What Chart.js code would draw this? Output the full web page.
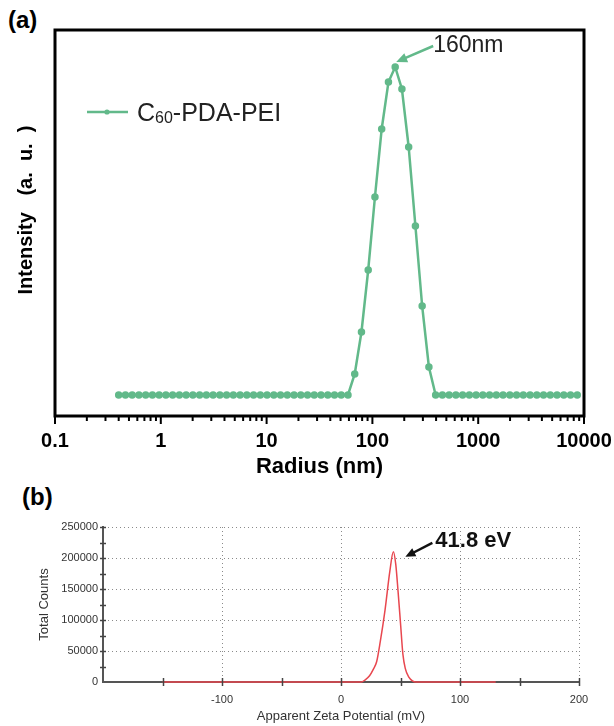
<!DOCTYPE html>
<html>
<head>
<meta charset="utf-8">
<script src="https://cdn.jsdelivr.net/npm/chart.js@4.4.0/dist/chart.umd.min.js"></script>
<style>
  body { margin: 0; background: #fff; }
  #wrap { position: relative; width: 614px; height: 726px; }
  canvas { position: absolute; left: 0; }
  .tag { position: absolute; font: bold 24px "Liberation Sans", Arial, sans-serif; color: #000; line-height: 28px; }
</style>
</head>
<body>
<div id="wrap">
  <div class="tag" style="left:8px;top:6px">(a)</div>
  <canvas id="sizeChart" width="614" height="480" style="top:0"></canvas>
  <div class="tag" style="left:22px;top:483px">(b)</div>
  <canvas id="zetaChart" width="614" height="246" style="top:480px"></canvas>
</div>
<script>
// (a) size distribution, radius bins in nm
var radiusNm = [0.4, 0.4632, 0.5365, 0.6213, 0.7195, 0.8332, 0.9649, 1.117, 1.294, 1.499,
  1.736, 2.01, 2.328, 2.696, 3.122, 3.615, 4.187, 4.849, 5.615, 6.503,
  7.531, 8.721, 10.1, 11.7, 13.54, 15.69, 18.17, 21.04, 24.36, 28.21,
  32.67, 37.84, 43.82, 50.75, 58.77, 68.06, 78.82, 91.28, 105.7, 122.4,
  141.8, 164.2, 190.1, 220.2, 255, 295.3, 342, 396.1, 458.7, 531.2,
  615.1, 712.4, 825, 955.4, 1106, 1281, 1484, 1718, 1990, 2305,
  2669, 3091, 3580, 4145, 4801, 5560, 6439, 7456, 8635];
var intensity = [0, 0, 0, 0, 0, 0, 0, 0, 0, 0,
  0, 0, 0, 0, 0, 0, 0, 0, 0, 0,
  0, 0, 0, 0, 0, 0, 0, 0, 0, 0,
  0, 0, 0, 0, 0, 1.05, 3.15, 6.25, 9.9, 13.3,
  15.65, 16.4, 15.3, 12.4, 8.45, 4.45, 1.4, 0, 0, 0,
  0, 0, 0, 0, 0, 0, 0, 0, 0, 0,
  0, 0, 0, 0, 0, 0, 0, 0, 0];
var radiusTicks = [0.1, 1, 10, 100, 1000, 10000];

// (b) zeta potential distribution
var zetaMv = [-150, 17, 20, 24, 27, 30, 33, 37, 41, 44, 46, 48, 50, 52, 54, 57, 60, 63, 130];
var zetaCounts = [0, 0, 3000, 10000, 20000, 33000, 65000, 116000, 178000, 210000,
  190000, 145000, 95000, 45000, 22000, 8000, 2000, 0, 0];
var zetaTickLabels = [-100, 0, 100, 200];
var countTickLabels = [0, 50000, 100000, 150000, 200000, 250000];

var green = '#62b98a';
var red = '#e8474f';
var sans = '"Liberation Sans", Arial, sans-serif';
var narrow = '"Liberation Sans Narrow", "Liberation Sans", Arial, sans-serif';

function decadeOf(v) {
  return radiusTicks.find(function (t) { return Math.abs(v / t - 1) < 1e-6; });
}

function arrow(ctx, x1, y1, x2, y2, color, w, head) {
  var ang = Math.atan2(y2 - y1, x2 - x1);
  ctx.strokeStyle = color; ctx.fillStyle = color; ctx.lineWidth = w;
  ctx.beginPath();
  ctx.moveTo(x1, y1);
  ctx.lineTo(x2 - Math.cos(ang) * head * 0.8, y2 - Math.sin(ang) * head * 0.8);
  ctx.stroke();
  ctx.beginPath();
  ctx.moveTo(x2, y2);
  ctx.lineTo(x2 - head * Math.cos(ang - 0.42), y2 - head * Math.sin(ang - 0.42));
  ctx.lineTo(x2 - head * Math.cos(ang + 0.42), y2 - head * Math.sin(ang + 0.42));
  ctx.closePath();
  ctx.fill();
}

var sizeDecor = {
  id: 'sizeDecor',
  afterDatasetsDraw: function (chart) {
    var ctx = chart.ctx, a = chart.chartArea, x = chart.scales.x, y = chart.scales.y;
    ctx.save();
    ctx.strokeStyle = '#000';
    ctx.lineWidth = 3;
    ctx.strokeRect(a.left, a.top, a.right - a.left, a.bottom - a.top);
    ctx.lineWidth = 2;
    x.ticks.forEach(function (t) {
      var px = x.getPixelForValue(t.value);
      var len = decadeOf(t.value) ? 8 : 5;
      ctx.beginPath();
      ctx.moveTo(px, a.bottom);
      ctx.lineTo(px, a.bottom + len);
      ctx.stroke();
    });

    // y title, sits a little above the middle of the frame
    ctx.save();
    ctx.translate(a.left - 29, a.top + 180);
    ctx.rotate(-Math.PI / 2);
    ctx.fillStyle = '#000';
    ctx.font = 'bold 20px ' + sans;
    ctx.textAlign = 'center';
    ctx.textBaseline = 'middle';
    ctx.fillText('Intensity   (a.  u.  )', 0, 0);
    ctx.restore();

    // legend
    var lx = a.left + 32, ly = a.top + 82;
    ctx.strokeStyle = green; ctx.fillStyle = green; ctx.lineWidth = 2.5;
    ctx.beginPath(); ctx.moveTo(lx, ly); ctx.lineTo(lx + 41, ly); ctx.stroke();
    ctx.beginPath(); ctx.arc(lx + 20, ly, 2.6, 0, Math.PI * 2); ctx.fill();
    ctx.fillStyle = '#222';
    ctx.textBaseline = 'alphabetic';
    ctx.textAlign = 'left';
    var tx = lx + 50, base = ly + 9;
    ctx.font = '25px ' + sans;
    ctx.fillText('C', tx, base);
    tx += ctx.measureText('C').width;
    ctx.font = '16px ' + sans;
    ctx.fillText('60', tx, base + 2);
    tx += ctx.measureText('60').width;
    ctx.font = '25px ' + sans;
    ctx.fillText('-PDA-PEI', tx, base);

    // peak annotation
    var pk = intensity.indexOf(Math.max.apply(null, intensity));
    var px = x.getPixelForValue(radiusNm[pk]), py = y.getPixelForValue(intensity[pk]);
    arrow(ctx, px + 38, py - 21, px + 1, py - 5, green, 2.5, 12);
    ctx.fillStyle = '#222';
    ctx.textBaseline = 'middle';
    ctx.font = '23px ' + sans;
    ctx.fillText('160nm', px + 38, py - 21);
    ctx.restore();
  }
};

new Chart(document.getElementById('sizeChart'), {
  type: 'line',
  data: {
    datasets: [{
      label: 'C60-PDA-PEI',
      data: radiusNm.map(function (r, i) { return { x: r, y: intensity[i] }; }),
      borderColor: green,
      backgroundColor: green,
      borderWidth: 2.5,
      pointRadius: 2.5,
      pointHoverRadius: 2.5,
      tension: 0
    }]
  },
  options: {
    responsive: false,
    animation: false,
    events: [],
    layout: { padding: { top: 30, right: 30, left: 0, bottom: 0 } },
    plugins: { legend: { display: false }, tooltip: { enabled: false } },
    scales: {
      x: {
        type: 'logarithmic',
        min: 0.1,
        max: 10000,
        afterBuildTicks: function (s) {
          s.ticks = s.ticks.filter(function (t) {
            var m = t.value / Math.pow(10, Math.floor(Math.log10(t.value) + 1e-9));
            return Math.abs(m - Math.round(m)) < 1e-6;
          });
        },
        afterFit: function (s) { s.height = 64; s.paddingLeft = 0; s.paddingRight = 0; },
        grid: { display: false, drawTicks: false },
        border: { display: false },
        ticks: {
          autoSkip: false,
          maxRotation: 0,
          padding: 13,
          color: '#000',
          font: { family: sans, size: 20, weight: 'bold' },
          callback: function (v) { var d = decadeOf(v); return d ? String(d) : ''; }
        },
        title: {
          display: true,
          text: 'Radius (nm)',
          color: '#000',
          font: { family: sans, size: 22, weight: 'bold' },
          padding: { top: 0, bottom: 0 }
        }
      },
      y: {
        min: -1.05,
        max: 18.25,
        afterFit: function (s) { s.width = 55; },
        grid: { display: false, drawTicks: false },
        border: { display: false },
        ticks: { display: false }
      }
    }
  },
  plugins: [sizeDecor]
});

var zetaDecor = {
  id: 'zetaDecor',
  afterDatasetsDraw: function (chart) {
    var ctx = chart.ctx, a = chart.chartArea, x = chart.scales.x, y = chart.scales.y;
    ctx.save();
    ctx.strokeStyle = '#444';
    ctx.lineWidth = 1.5;
    x.ticks.forEach(function (t) {
      if (t.value === x.min) return;
      var px = Math.round(x.getPixelForValue(t.value)) + 0.5;
      ctx.beginPath(); ctx.moveTo(px, a.bottom - 4); ctx.lineTo(px, a.bottom + 4); ctx.stroke();
    });
    y.ticks.forEach(function (t) {
      if (t.value === y.min) return;
      var py = Math.round(y.getPixelForValue(t.value)) + 0.5;
      ctx.beginPath(); ctx.moveTo(a.left - 3, py); ctx.lineTo(a.left + 3, py); ctx.stroke();
    });
    var pk = zetaCounts.indexOf(Math.max.apply(null, zetaCounts));
    var px = x.getPixelForValue(zetaMv[pk]), py = y.getPixelForValue(zetaCounts[pk]);
    arrow(ctx, px + 39, py - 9, px + 12, py + 5, '#111', 2.5, 11);
    ctx.fillStyle = '#111';
    ctx.font = 'bold 22px ' + sans;
    ctx.textBaseline = 'middle';
    ctx.textAlign = 'left';
    ctx.fillText('41.8 eV', px + 42, py - 11);
    ctx.restore();
  }
};

function gridColor(list, skip) {
  return function (c) {
    var v = c.tick ? c.tick.value : null;
    return (list.indexOf(v) >= 0 && v !== skip) ? '#8a8a8a' : 'rgba(0,0,0,0)';
  };
}

new Chart(document.getElementById('zetaChart'), {
  type: 'line',
  data: {
    datasets: [{
      data: zetaMv.map(function (v, i) { return { x: v, y: zetaCounts[i] }; }),
      borderColor: red,
      borderWidth: 1.5,
      pointRadius: 0,
      cubicInterpolationMode: 'monotone',
      fill: false,
      clip: false
    }]
  },
  options: {
    responsive: false,
    animation: false,
    events: [],
    layout: { padding: { top: 47, right: 35, left: 0, bottom: 0 } },
    plugins: { legend: { display: false }, tooltip: { enabled: false } },
    scales: {
      x: {
        type: 'linear',
        min: -200,
        max: 200,
        afterFit: function (s) { s.height = 44; },
        grid: { drawTicks: false, lineWidth: 1, color: gridColor(zetaTickLabels, -200) },
        border: { display: true, color: '#555', width: 2, dash: [1, 3] },
        ticks: {
          stepSize: 50,
          autoSkip: false,
          maxRotation: 0,
          padding: 11,
          color: '#333',
          font: { family: sans, size: 11 },
          callback: function (v) { return zetaTickLabels.indexOf(v) >= 0 ? String(v) : ''; }
        },
        title: {
          display: true,
          text: 'Apparent Zeta Potential (mV)',
          color: '#333',
          font: { family: narrow, size: 13 },
          padding: { top: 0, bottom: 2 }
        }
      },
      y: {
        min: 0,
        max: 250000,
        afterFit: function (s) { s.width = 103; },
        grid: { drawTicks: false, lineWidth: 1, color: gridColor(countTickLabels, 0) },
        border: { display: true, color: '#555', width: 2, dash: [1, 3] },
        ticks: {
          stepSize: 25000,
          autoSkip: false,
          padding: 5,
          color: '#333',
          font: { family: sans, size: 11 },
          callback: function (v) { return countTickLabels.indexOf(v) >= 0 ? String(v) : ''; }
        },
        title: {
          display: true,
          text: 'Total Counts',
          color: '#333',
          font: { family: narrow, size: 13 },
          padding: { top: 37, bottom: 0 }
        }
      }
    }
  },
  plugins: [zetaDecor]
});
</script>
</body>
</html>
